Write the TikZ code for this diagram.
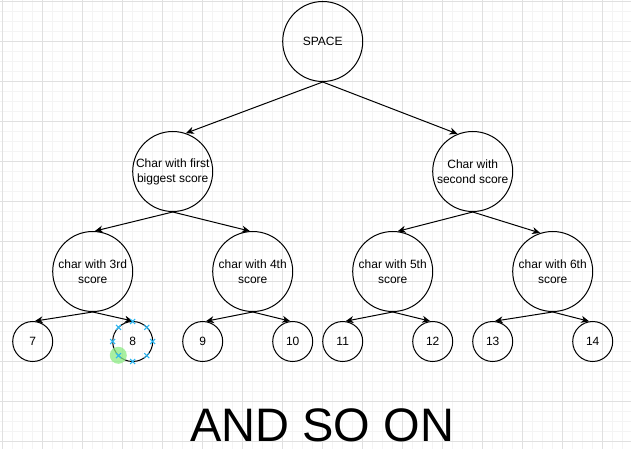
\documentclass[tikz,border=0pt]{standalone}
\usepackage{fontspec}
\setmainfont{Liberation Sans}
\usetikzlibrary{arrows.meta,calc}
\definecolor{gridminor}{HTML}{F4F4F4}
\definecolor{gridmajor}{HTML}{E0E0E0}
\definecolor{handle}{HTML}{29B6F2}
\definecolor{hover}{HTML}{8DEB84}
\begin{document}
\begin{tikzpicture}[x=1pt,y=-1pt,
  big/.style={circle, draw, line width=1pt, minimum size=80pt, inner sep=0pt, align=center, font=\fontsize{12}{15}\selectfont},
  leaf/.style={circle, draw, line width=1pt, minimum size=40pt, inner sep=0pt, font=\fontsize{12}{15}\selectfont},
  edge/.style={line width=1pt, -{Stealth[length=8pt,width=7pt,inset=2.5pt]}},
  hmark/.style={handle, line width=1pt}]
\fill[white] (0,0) rectangle (631,449);
\useasboundingbox (0,0) rectangle (631,449);
\foreach \i in {0,...,62} \draw[gridminor, line width=1pt] (2.7+10*\i,0) -- (2.7+10*\i,449);
\foreach \i in {0,...,44} \draw[gridminor, line width=1pt] (0,1.5+10*\i) -- (631,1.5+10*\i);
\foreach \i in {0,...,15} \draw[gridmajor, line width=1pt] (2.7+40*\i,0) -- (2.7+40*\i,449);
\foreach \i in {0,...,11} \draw[gridmajor, line width=1pt] (0,1.5+40*\i) -- (631,1.5+40*\i);

\node[big] (sp) at (322.7,41.5) {SPACE};
\node[big] (c1) at (172.7,171.5) {Char with first\\biggest score};
\node[big] (c2) at (472.7,171.5) {Char with\\second score};
\node[big] (c3) at (92.7,271.5) {char with 3rd\\score};
\node[big] (c4) at (252.7,271.5) {char with 4th\\score};
\node[big] (c5) at (392.7,271.5) {char with 5th\\score};
\node[big] (c6) at (552.7,271.5) {char with 6th\\score};
\node[leaf] (l7) at (32.7,341.5) {7};
\node[leaf] (l8) at (132.7,341.5) {8};
\node[leaf] (l9) at (202.7,341.5) {9};
\node[leaf] (l10) at (292.7,341.5) {10};
\node[leaf] (l11) at (342.7,341.5) {11};
\node[leaf] (l12) at (432.7,341.5) {12};
\node[leaf] (l13) at (492.7,341.5) {13};
\node[leaf] (l14) at (592.7,341.5) {14};

\draw[edge] (sp.south) -- (c1.71);
\draw[edge] (sp.south) -- (c2.112);
\draw[edge] (c1.south) -- (c3.87);
\draw[edge] (c1.south) -- (c4.94);
\draw[edge] (c2.south) -- (c5.83);
\draw[edge] (c2.south) -- (c6.108);
\draw[edge] (c3.south) -- (l7.84);
\draw[edge] (c3.south) -- (l8.90);
\draw[edge] (c4.south) -- (l9.81);
\draw[edge] (c4.south) -- (l10.97);
\draw[edge] (c5.south) -- (l11.82);
\draw[edge] (c5.south) -- (l12.97);
\draw[edge] (c6.south) -- (l13.84);
\draw[edge] (c6.south) -- (l14.100);

\fill[hover, opacity=0.75] (118.3,355.3) circle[radius=8.5];
\foreach \a in {0,45,...,315}
  \draw[hmark] ($(l8)+({20*cos(\a)},{-20*sin(\a)})+(-2.5,-2.5)$) -- ++(5,5) ++(0,-5) -- ++(-5,5);

\node[font=\fontsize{47}{56}\selectfont, anchor=base, inner sep=0pt, text depth=0pt] (more) at (322.2,441.7) {AND SO ON};
\end{tikzpicture}
\end{document}
